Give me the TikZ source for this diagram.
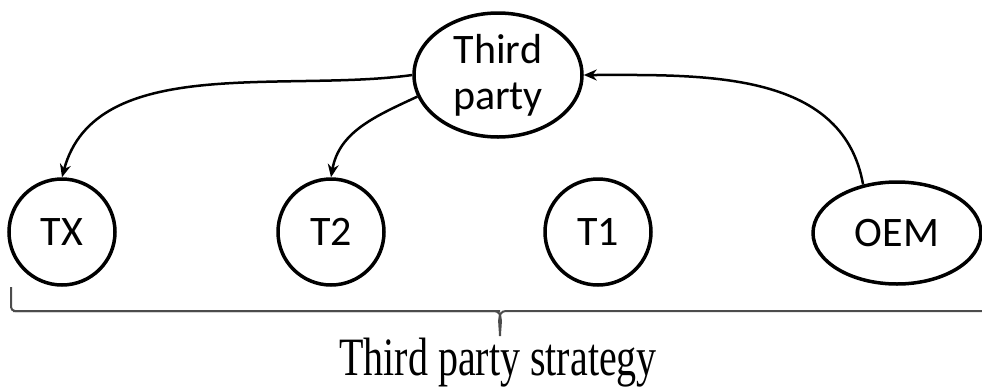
\documentclass[tikz,border=0pt]{standalone}
\usepackage{fontspec}
\setmainfont{Liberation Serif}
\newfontfamily\calib{Carlito}
\usetikzlibrary{shapes.geometric,arrows.meta}
\begin{document}
\begin{tikzpicture}[x=1pt,y=-1pt,
  ent/.style={draw=black,line width=3.5pt,ellipse,inner sep=0pt,font=\calib\fontsize{42}{46}\selectfont,align=center},
  circ/.style={ent,minimum width=106pt,minimum height=106pt},
  link/.style={draw=black,line width=2.5pt,-{Stealth[length=13pt,width=11pt]}},
  bracestyle/.style={draw=black!70,line width=2pt,rounded corners=4pt}]
\useasboundingbox (0,0) rectangle (982,389);
\node[ent,minimum width=168pt,minimum height=124pt] (tp) at (498,75) {Third\\party};
\node[circ] (tx) at (62,232) {TX};
\node[circ] (t2) at (331,232) {T2};
\node[circ] (t1) at (598,232) {T1};
\node[ent,minimum width=168pt,minimum height=102pt] (oem) at (897,233) {OEM};
\draw[link] (tp.180) to[out=188,in=75,looseness=0.9] (tx.90);
\draw[link] (tp.195) to[out=205,in=80] (t2.90);
\draw[link] (oem.125) to[out=100,in=0] (tp.0);
\coordinate (bl) at (11,287);
\coordinate (br) at (983,311);
\coordinate (bt) at (500,336);
\draw[bracestyle] (bl) -- (11,311) -- (500,311);
\draw[draw=black!70,line width=2pt] (13,311) -- (494,311) to[out=0,in=90] (bt) (bt) to[out=90,in=180] (506,311) -- (br);
\node[font=\fontsize{40}{42}\selectfont,xscale=1.0,yscale=1.35] (lbl) at (498,363) {Third party strategy};
\end{tikzpicture}
\end{document}
